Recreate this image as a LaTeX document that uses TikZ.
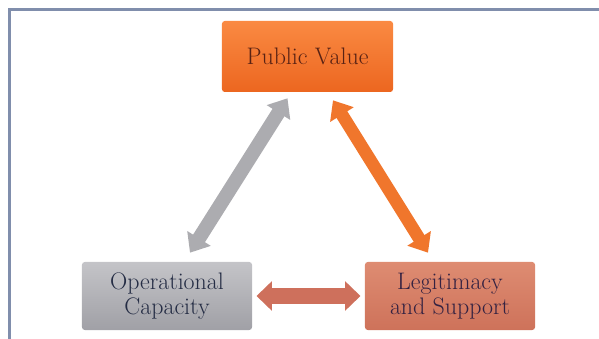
\documentclass[tikz,border=0pt]{standalone}
\usetikzlibrary{arrows.meta,calc}
\definecolor{frameblue}{RGB}{128,142,172}
\definecolor{pvtop}{RGB}{250,138,66}
\definecolor{pvbot}{RGB}{236,102,32}
\definecolor{pvtext}{RGB}{88,34,20}
\definecolor{optop}{RGB}{196,196,200}
\definecolor{opbot}{RGB}{160,160,166}
\definecolor{optext}{RGB}{36,44,68}
\definecolor{lgtop}{RGB}{222,140,114}
\definecolor{lgbot}{RGB}{206,114,90}
\definecolor{lgtext}{RGB}{52,34,66}
\definecolor{greyarr}{RGB}{172,172,176}
\definecolor{orangearr}{RGB}{240,118,44}
\definecolor{salmonarr}{RGB}{206,112,92}
\tikzset{
  box/.style={rounded corners=2pt,minimum width=4.25cm,minimum height=1.7cm,align=center,font=\fontsize{17}{18}\selectfont},
  pvbox/.style={box,minimum width=4.275cm,minimum height=1.775cm,top color=pvtop,bottom color=pvbot,text=pvtext},
  opbox/.style={box,top color=optop,bottom color=opbot,text=optext},
  lgbox/.style={box,top color=lgtop,bottom color=lgbot,text=lgtext},
  dbl/.style={line width=10pt,{Triangle[length=12pt,width=19pt]}-{Triangle[length=12pt,width=19pt]}},
  wide/.style={line width=11pt,{Triangle[length=11pt,width=20.5pt]}-{Triangle[length=11pt,width=20.5pt]}},
  frame/.style={draw=frameblue,line width=2pt}
}

\begin{document}
\begin{tikzpicture}[x=0.025cm,y=0.025cm]
\useasboundingbox (0,0) rectangle (599,339);
\draw[frame] (9.5,0) -- (9.5,329.5) -- (599,329.5);

\node[pvbox] (pubval) at (307.5,282.5) {Public Value};
\node[opbox] (opcap) at (167,43) {Operational\\Capacity};
\node[lgbox] (legit) at (450,43) {Legitimacy\\and Support};

\draw[dbl,draw=greyarr] ([shift={(23,9)}]opcap.north) -- ([shift={(-20,-6)}]pubval.south);
\draw[dbl,draw=orangearr,line width=9pt] ([shift={(25.5,-8)}]pubval.south) -- ([shift={(-22,9)}]legit.north);
\draw[wide,draw=salmonarr] ([xshift=3]opcap.east) -- ([xshift=-3]legit.west);
\end{tikzpicture}
\end{document}
